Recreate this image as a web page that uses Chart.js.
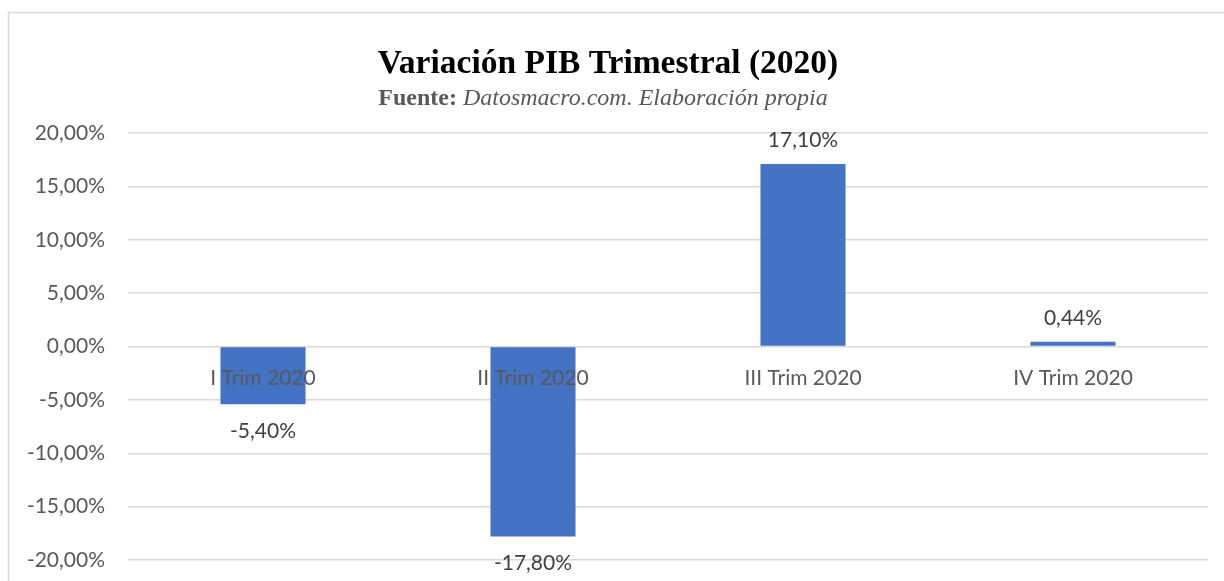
<!DOCTYPE html>
<html>
<head>
<meta charset="utf-8">
<script src="https://cdn.jsdelivr.net/npm/chart.js@4"></script>
<style>
  html, body { margin: 0; padding: 0; background: #ffffff; }
  #wrap { width: 1224px; height: 581px; position: relative; }
</style>
</head>
<body>
<div id="wrap"><canvas id="c" width="1224" height="581"></canvas></div>
<script>
const categories = ['I Trim 2020', 'II Trim 2020', 'III Trim 2020', 'IV Trim 2020'];
const variacion = [-5.4, -17.8, 17.1, 0.44];
const yTicks = [-20, -15, -10, -5, 0, 5, 10, 15, 20];
const titleText = 'Variación PIB Trimestral (2020)';
const sourceLabel = 'Fuente:';
const sourceText = 'Datosmacro.com. Elaboración propia';

const fmt = v => v.toFixed(2).replace('.', ',') + '%';

const framePlugin = {
  id: 'frame',
  beforeDraw(chart) {
    const ctx = chart.ctx;
    ctx.save();
    ctx.fillStyle = '#ffffff';
    ctx.fillRect(0, 0, chart.width, chart.height);
    ctx.strokeStyle = '#d9d9d9';
    ctx.lineWidth = 1.5;
    ctx.beginPath();
    ctx.moveTo(8.5, chart.height);
    ctx.lineTo(8.5, 12.5);
    ctx.lineTo(chart.width, 12.5);
    ctx.stroke();
    ctx.restore();
  },
  afterDraw(chart) {
    const ctx = chart.ctx;
    ctx.save();
    ctx.textAlign = 'center';
    ctx.textBaseline = 'alphabetic';
    ctx.fillStyle = '#000000';
    ctx.font = 'bold 33.5px "Liberation Serif", "Times New Roman", serif';
    ctx.fillText(titleText, 608, 73);
    const boldFont = 'bold 24px "Liberation Serif", "Times New Roman", serif';
    const itFont = 'italic 24px "Liberation Serif", "Times New Roman", serif';
    ctx.font = boldFont;
    const w1 = ctx.measureText(sourceLabel + ' ').width;
    ctx.font = itFont;
    const w2 = ctx.measureText(sourceText).width;
    const x0 = 603 - (w1 + w2) / 2;
    ctx.textAlign = 'left';
    ctx.fillStyle = '#595959';
    ctx.font = boldFont;
    ctx.fillText(sourceLabel + ' ', x0, 105);
    ctx.font = itFont;
    ctx.fillText(sourceText, x0 + w1, 105);
    ctx.restore();
  }
};

const valueLabels = {
  id: 'valueLabels',
  afterDraw(chart) {
    const ctx = chart.ctx;
    const meta = chart.getDatasetMeta(0);
    ctx.save();
    ctx.font = '21px Lato, "Open Sans", sans-serif';
    ctx.fillStyle = '#404040';
    ctx.textAlign = 'center';
    ctx.textBaseline = 'middle';
    meta.data.forEach((bar, i) => {
      const v = chart.data.datasets[0].data[i];
      const y = v >= 0 ? bar.y - 24 : bar.y + 27;
      ctx.fillText(fmt(v), bar.x, y);
    });
    ctx.restore();
  }
};

new Chart(document.getElementById('c'), {
  type: 'bar',
  data: {
    labels: categories,
    datasets: [{
      data: variacion,
      backgroundColor: '#4472C4',
      borderWidth: 0,
      barPercentage: 0.315,
      categoryPercentage: 1.0
    }]
  },
  options: {
    responsive: false,
    animation: false,
    events: [],
    layout: { padding: { left: 0, right: 16, top: 133, bottom: 21 } },
    plugins: { legend: { display: false }, tooltip: { enabled: false }, title: { display: false } },
    scales: {
      x: {
        position: { y: 0 },
        afterFit(scale) { scale.height = 0; scale.paddingTop = 0; scale.paddingBottom = 0; },
        grid: { display: false, drawTicks: false },
        border: { display: false },
        ticks: {
          z: 1,
          color: '#595959',
          font: { family: 'Lato, "Open Sans", sans-serif', size: 21 },
          padding: 19,
          maxRotation: 0,
          autoSkip: false
        }
      },
      y: {
        min: yTicks[0],
        max: yTicks[yTicks.length - 1],
        afterBuildTicks(scale) { scale.ticks = yTicks.map(v => ({ value: v })); },
        afterFit(scale) { scale.width = 128; scale.paddingTop = 0; scale.paddingBottom = 0; },
        grid: { color: '#d9d9d9', lineWidth: 1.5, drawTicks: false },
        border: { display: false },
        ticks: {
          color: '#595959',
          font: { family: 'Lato, "Open Sans", sans-serif', size: 21 },
          padding: 23,
          callback: v => fmt(v)
        }
      }
    }
  },
  plugins: [framePlugin, valueLabels]
});
</script>
</body>
</html>
